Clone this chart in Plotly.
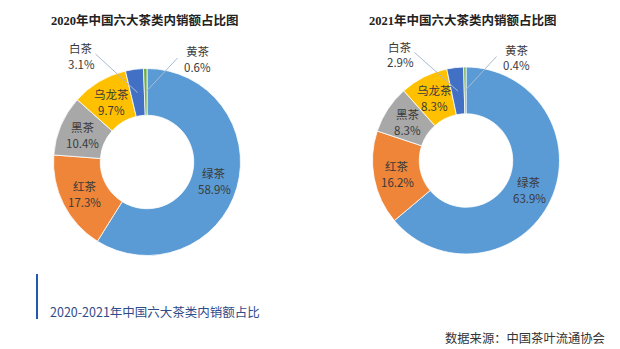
import math
import plotly.graph_objects as go

# Domestic sales share of China's six major tea categories (%)
categories = ["绿茶", "红茶", "黑茶", "乌龙茶", "白茶", "黄茶"]
share_2020 = [58.9, 17.3, 10.4, 9.7, 3.1, 0.6]
share_2021 = [63.9, 16.2, 8.3, 8.3, 2.9, 0.4]
titles = ["2020年中国六大茶类内销额占比图", "2021年中国六大茶类内销额占比图"]
caption = "2020-2021年中国六大茶类内销额占比"
source = "数据来源：中国茶叶流通协会"

colors = ["#5B9BD5", "#EE8539", "#A8A8A8", "#FFC000", "#4170C4", "#70AD47"]
outside = {"白茶", "黄茶"}

W, H = 620, 349
R = 93.5                     # outer radius in px
HOLE = 0.5
RING_MID = R * (1 + HOLE) / 2 * 0.998
CENTERS = [(147.0, 162.0), (466.0, 160.5)]
TITLE_X = [144.5, 462.5]
LINE_GAP = 8.0               # half distance between the name and value lines (px)
# label box offsets (px) from donut centre for the small slices, and where leader lines start
OUT_LABEL = {"白茶": (-66.0, -106.0, 14.5, -2.0), "黄茶": (50.5, -103.0, -20.0, -1.0)}

FONT = "Noto Sans CJK SC, Microsoft YaHei, sans-serif"
LABEL_FONT = dict(family=FONT, size=11.5, color="#3A3A3A")


def px(x):
    return x / W


def py(y):
    return 1 - y / H


def text_at(x, y, text, font, anchor="center"):
    return dict(x=px(x), y=py(y), xref="paper", yref="paper", text=text,
                showarrow=False, xanchor=anchor, yanchor="middle", font=font)


fig = go.Figure()
annotations = []
shapes = []

for idx, (values, (cx, cy)) in enumerate(zip([share_2020, share_2021], CENTERS)):
    fig.add_trace(go.Pie(
        labels=categories,
        values=values,
        hole=HOLE,
        sort=False,
        direction="clockwise",
        rotation=0,
        marker=dict(colors=colors, line=dict(color="white", width=0.8)),
        textinfo="none",
        hoverinfo="label+percent",
        showlegend=False,
        domain=dict(x=[px(cx - R), px(cx + R)], y=[py(cy + R), py(cy - R)]),
    ))

    total = sum(values)
    cum = 0.0
    for name, v in zip(categories, values):
        mid = (cum + v / 2) / total
        cum += v
        theta = 2 * math.pi * mid
        mx = cx + RING_MID * math.sin(theta)
        my = cy - RING_MID * math.cos(theta)
        if name in outside:
            ox, oy, lx, ly = OUT_LABEL[name]
            tx, ty = cx + ox, cy + oy
            shapes.append(dict(
                type="line", xref="paper", yref="paper",
                x0=px(tx + lx), y0=py(ty + ly), x1=px(mx), y1=py(my),
                line=dict(color="#A9BBD2", width=1),
            ))
        else:
            tx, ty = mx, my
        annotations.append(text_at(tx, ty - LINE_GAP, name, LABEL_FONT))
        annotations.append(text_at(tx, ty + LINE_GAP, f"{v:.1f}%", LABEL_FONT))

    annotations.append(text_at(
        TITLE_X[idx], 21, f"<b>{titles[idx]}</b>",
        dict(family="Liberation Serif, Noto Sans CJK SC, serif", size=12.5, color="#222222"),
    ))

# caption with accent bar
shapes.append(dict(
    type="line", xref="paper", yref="paper",
    x0=px(37), y0=py(274), x1=px(37), y1=py(319),
    line=dict(color="#1F5AAE", width=2),
))
annotations.append(text_at(48, 311, caption,
                           dict(family=FONT, size=12.5, color="#2F4B8A"), anchor="left"))
annotations.append(text_at(607, 338, source,
                           dict(family=FONT, size=12.3, color="#333333"), anchor="right"))

fig.update_layout(
    width=W, height=H,
    margin=dict(l=0, r=0, t=0, b=0),
    paper_bgcolor="white",
    plot_bgcolor="white",
    annotations=annotations,
    shapes=shapes,
)

fig.write_html("out.html", config={"displayModeBar": False})
